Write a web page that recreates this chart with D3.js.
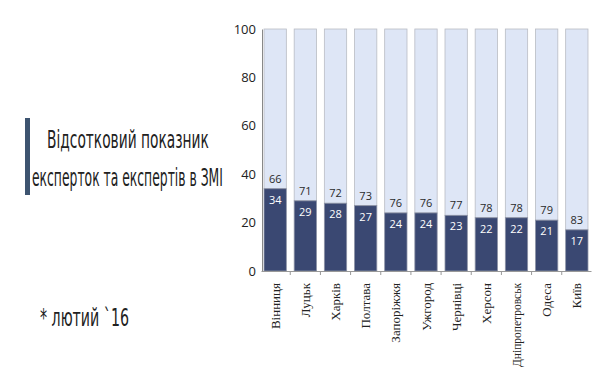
<!DOCTYPE html>
<html>
<head>
<meta charset="utf-8">
<script src="https://cdn.jsdelivr.net/npm/d3@7"></script>
<style>
  body { margin: 0; background: #fff; }
  svg { display: block; }
</style>
</head>
<body>
<div id="chart"></div>
<script>
// data
var cities = ["Вінниця", "Луцьк", "Харків", "Полтава", "Запоріжжя", "Ужгород",
    "Чернівці", "Херсон", "Дніпропетровськ", "Одеса", "Київ"];
var women = [34, 29, 28, 27, 24, 24, 23, 22, 22, 21, 17];
var men = [66, 71, 72, 73, 76, 76, 77, 78, 78, 79, 83];
var yTicks = [0, 20, 40, 60, 80, 100];

var svg = d3.select("#chart")
    .append("svg")
    .attr("width", 600)
    .attr("height", 375);

var x = d3.scaleBand()
    .domain(cities)
    .range([261, 591])
    .paddingInner(0.26)
    .paddingOuter(0.1);

var y = d3.scaleLinear()
    .domain([0, 100])
    .range([271, 29]);

// y axis
var yAxis = svg.append("g")
    .attr("transform", "translate(262,0)")
    .call(d3.axisLeft(y).tickValues(yTicks).tickSize(0).tickPadding(6));
yAxis.select(".domain").attr("stroke", "#888");
yAxis.selectAll("text")
    .style("font-family", "'Open Sans', sans-serif")
    .style("font-size", "13px")
    .attr("fill", "#222");

// bars: light part (men) on top
var g = svg.append("g");
g.selectAll(".men")
    .data(cities)
    .enter().append("rect")
    .attr("x", function (d) { return x(d); })
    .attr("width", x.bandwidth())
    .attr("y", y(100))
    .attr("height", function (d, i) { return y(women[i]) - y(100); })
    .attr("fill", "#dee6f6")
    .attr("stroke", "#b9bcc4")
    .attr("stroke-width", 0.8);

g.selectAll(".women")
    .data(cities)
    .enter().append("rect")
    .attr("x", function (d) { return x(d); })
    .attr("width", x.bandwidth())
    .attr("y", function (d, i) { return y(women[i]); })
    .attr("height", function (d, i) { return y(0) - y(women[i]); })
    .attr("fill", "#3a4872")
    .attr("stroke", "#8d93a6")
    .attr("stroke-width", 0.8);

// value labels
g.selectAll(".lblMen")
    .data(cities)
    .enter().append("text")
    .attr("x", function (d) { return x(d) + x.bandwidth() / 2; })
    .attr("y", function (d, i) { return y(women[i]) - 6; })
    .attr("text-anchor", "middle")
    .style("font-family", "'Open Sans', sans-serif")
    .style("font-size", "11px")
    .attr("fill", "#2a2a2a")
    .text(function (d, i) { return men[i]; });

g.selectAll(".lblWomen")
    .data(cities)
    .enter().append("text")
    .attr("x", function (d) { return x(d) + x.bandwidth() / 2; })
    .attr("y", function (d, i) { return y(women[i]) + 15; })
    .attr("text-anchor", "middle")
    .style("font-family", "'Open Sans', sans-serif")
    .style("font-size", "11px")
    .attr("fill", "#ffffff")
    .text(function (d, i) { return women[i]; });

// x axis
var xAxis = svg.append("g")
    .attr("transform", "translate(0,271)")
    .call(d3.axisBottom(x).tickSize(0).tickPadding(0));
xAxis.select(".domain").attr("stroke", "#999");
xAxis.selectAll("text")
    .attr("transform", "rotate(-90)")
    .attr("text-anchor", "end")
    .attr("x", -12)
    .attr("y", 0)
    .attr("dy", "0.35em")
    .style("font-family", "'Liberation Serif', serif")
    .style("font-size", "13px")
    .attr("fill", "#222")
    .each(function () {
        // long names are squeezed so they stay inside the picture
        if (this.getComputedTextLength() > 84) {
            d3.select(this)
                .attr("textLength", 84)
                .attr("lengthAdjust", "spacingAndGlyphs");
        }
    });

// small ticks between bars
var step = x.step();
svg.append("g").selectAll("line")
    .data(cities.slice(1))
    .enter().append("line")
    .attr("x1", function (d) { return x(d) - (step - x.bandwidth()) / 2; })
    .attr("x2", function (d) { return x(d) - (step - x.bandwidth()) / 2; })
    .attr("y1", 271)
    .attr("y2", 275)
    .attr("stroke", "#999");

// title block
svg.append("rect")
    .attr("x", 25)
    .attr("y", 118)
    .attr("width", 5)
    .attr("height", 77)
    .attr("fill", "#3d5470");

// narrow text: draw at full size then squeeze horizontally to the wanted width
var titleFont = "'Liberation Sans Narrow', 'DejaVu Sans Condensed', sans-serif";
function squeezedText(txt, tx, ty, w) {
    var t = svg.append("text")
        .style("font-family", titleFont)
        .style("font-size", "24px")
        .attr("fill", "#222")
        .text(txt);
    var len = t.node().getComputedTextLength();
    t.attr("transform", "translate(" + tx + "," + ty + ") scale(" + (w / len) + ",1)");
}

squeezedText("Відсотковий показник", 47, 148, 162);
squeezedText("експерток та експертів в ЗМІ", 32, 186, 191);
squeezedText("* лютий `16", 40, 326, 89);
</script>
</body>
</html>
